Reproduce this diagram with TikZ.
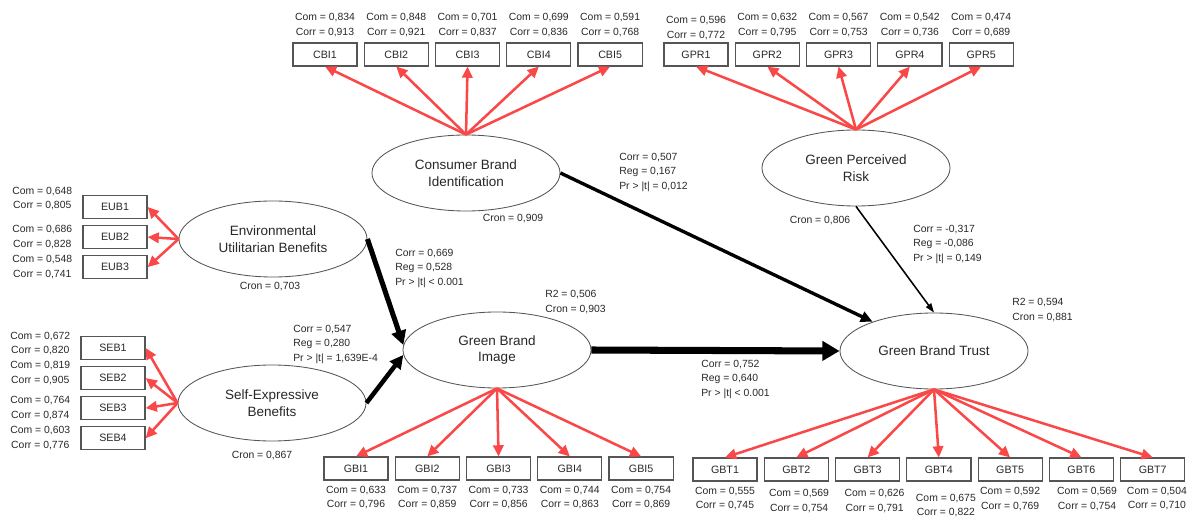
\documentclass[tikz,border=0pt]{standalone}
\usepackage{fontspec}
\setmainfont{Liberation Sans}
\usepackage{tikz}
\usetikzlibrary{arrows.meta,positioning,shapes.geometric}
\definecolor{loadred}{RGB}{250,72,72}
\definecolor{shapeline}{RGB}{85,85,85}
\definecolor{textgray}{RGB}{40,40,40}
\tikzset{
  latent/.style={
    ellipse,
    draw=shapeline,
    line width=0.6pt,
    fill=white,
    align=center,
    minimum width=4.7cm,
    minimum height=1.9cm,
    inner sep=0pt,
    text=textgray,
    font=\fontsize{9.6}{12}\selectfont
  },
  indicator/.style={
    draw=shapeline,
    line width=0.9pt,
    fill=white,
    minimum width=1.6cm,
    minimum height=0.57cm,
    inner sep=0pt,
    text=textgray,
    font=\fontsize{7.6}{9}\selectfont
  },
  stat/.style={
    align=left,
    inner sep=0pt,
    text=textgray,
    font=\fontsize{7.4}{10.3}\selectfont
  },
  loadval/.style={stat, align=center},
  loading/.style={draw=loadred, line width=1.8pt, -{Triangle[length=2.8mm,width=2.6mm]}},
  effect/.style={line width=#1, -{Triangle[length=5pt 1.45,width=2pt 2.3]}}
}
\begin{document}
\begin{tikzpicture}[x=0.025cm, y=-0.025cm]
  \useasboundingbox (0,0) rectangle (1192,517);

  \node[latent] (cbi) at (466,173) {Consumer Brand\\Identification};
  \node[latent] (gpr) at (856,168) {Green Perceived\\Risk};
  \node[latent] (eub) at (273,239) {Environmental\\Utilitarian Benefits};
  \node[latent] (seb) at (272,403) {Self-Expressive\\Benefits};
  \node[latent] (gbi) at (497,350) {Green Brand\\Image};
  \node[latent] (gbt) at (934,351) {Green Brand Trust};

  \node[indicator] (cbi1) at (325,54.5) {CBI1};
  \node[indicator, right=0.15cm of cbi1] (cbi2) {CBI2};
  \node[indicator, right=0.15cm of cbi2] (cbi3) {CBI3};
  \node[indicator, right=0.15cm of cbi3] (cbi4) {CBI4};
  \node[indicator, right=0.15cm of cbi4] (cbi5) {CBI5};
  \node[loadval, above=4pt of cbi1] (cbi1v) {Com = 0,834\\Corr = 0,913};
  \node[loadval, above=4pt of cbi2] (cbi2v) {Com = 0,848\\Corr = 0,921};
  \node[loadval, above=4pt of cbi3] (cbi3v) {Com = 0,701\\Corr = 0,837};
  \node[loadval, above=4pt of cbi4] (cbi4v) {Com = 0,699\\Corr = 0,836};
  \node[loadval, above=4pt of cbi5] (cbi5v) {Com = 0,591\\Corr = 0,768};

  \node[indicator] (gpr1) at (696,54.5) {GPR1};
  \node[indicator, right=0.15cm of gpr1] (gpr2) {GPR2};
  \node[indicator, right=0.15cm of gpr2] (gpr3) {GPR3};
  \node[indicator, right=0.15cm of gpr3] (gpr4) {GPR4};
  \node[indicator, right=0.15cm of gpr4] (gpr5) {GPR5};
  \node[loadval, above=2pt of gpr1] (gpr1v) {Com = 0,596\\Corr = 0,772};
  \node[loadval, above=4pt of gpr2] (gpr2v) {Com = 0,632\\Corr = 0,795};
  \node[loadval, above=4pt of gpr3] (gpr3v) {Com = 0,567\\Corr = 0,753};
  \node[loadval, above=4pt of gpr4] (gpr4v) {Com = 0,542\\Corr = 0,736};
  \node[loadval, above=4pt of gpr5] (gpr5v) {Com = 0,474\\Corr = 0,689};

  \node[indicator] (eub1) at (115,207) {EUB1};
  \node[indicator, below=0.15cm of eub1] (eub2) {EUB2};
  \node[indicator, below=0.15cm of eub2] (eub3) {EUB3};
  \node[loadval, left=7pt of eub1, yshift=6pt] (eub1v) {Com = 0,648\\Corr = 0,805};
  \node[loadval, left=7pt of eub2] (eub2v) {Com = 0,686\\Corr = 0,828};
  \node[loadval, left=7pt of eub3] (eub3v) {Com = 0,548\\Corr = 0,741};

  \node[indicator] (seb1) at (113,348) {SEB1};
  \node[indicator, below=0.15cm of seb1] (seb2) {SEB2};
  \node[indicator, below=0.15cm of seb2] (seb3) {SEB3};
  \node[indicator, below=0.15cm of seb3] (seb4) {SEB4};
  \node[loadval, left=7pt of seb1, yshift=3pt] (seb1v) {Com = 0,672\\Corr = 0,820};
  \node[loadval, left=7pt of seb2, yshift=3.5pt] (seb2v) {Com = 0,819\\Corr = 0,905};
  \node[loadval, left=7pt of seb3] (seb3v) {Com = 0,764\\Corr = 0,874};
  \node[loadval, left=7pt of seb4] (seb4v) {Com = 0,603\\Corr = 0,776};

  \node[indicator] (gbi1) at (356,468.5) {GBI1};
  \node[indicator, right=0.15cm of gbi1] (gbi2) {GBI2};
  \node[indicator, right=0.15cm of gbi2] (gbi3) {GBI3};
  \node[indicator, right=0.15cm of gbi3] (gbi4) {GBI4};
  \node[indicator, right=0.15cm of gbi4] (gbi5) {GBI5};
  \node[loadval, below=3.5pt of gbi1] (gbi1v) {Com = 0,633\\Corr = 0,796};
  \node[loadval, below=3.5pt of gbi2] (gbi2v) {Com = 0,737\\Corr = 0,859};
  \node[loadval, below=3.5pt of gbi3] (gbi3v) {Com = 0,733\\Corr = 0,856};
  \node[loadval, below=3.5pt of gbi4] (gbi4v) {Com = 0,744\\Corr = 0,863};
  \node[loadval, below=3.5pt of gbi5] (gbi5v) {Com = 0,754\\Corr = 0,869};

  \node[indicator] (gbt1) at (725,469.5) {GBT1};
  \node[indicator, right=0.15cm of gbt1] (gbt2) {GBT2};
  \node[indicator, right=0.15cm of gbt2] (gbt3) {GBT3};
  \node[indicator, right=0.15cm of gbt3] (gbt4) {GBT4};
  \node[indicator, right=0.15cm of gbt4] (gbt5) {GBT5};
  \node[indicator, right=0.15cm of gbt5] (gbt6) {GBT6};
  \node[indicator, right=0.15cm of gbt6] (gbt7) {GBT7};
  \node[loadval, below=3.5pt of gbt1] (gbt1v) {Com = 0,555\\Corr = 0,745};
  \node[loadval, below=5.5pt of gbt2, xshift=2pt] (gbt2v) {Com = 0,569\\Corr = 0,754};
  \node[loadval, below=5.5pt of gbt3, xshift=5pt] (gbt3v) {Com = 0,626\\Corr = 0,791};
  \node[loadval, below=8.5pt of gbt4, xshift=5pt] (gbt4v) {Com = 0,675\\Corr = 0,822};
  \node[loadval, below=4pt of gbt5] (gbt5v) {Com = 0,592\\Corr = 0,769};
  \node[loadval, below=4pt of gbt6, xshift=4pt] (gbt6v) {Com = 0,569\\Corr = 0,754};
  \node[loadval, below=3.5pt of gbt7, xshift=3pt] (gbt7v) {Com = 0,504\\Corr = 0,710};

  \node[loadval] (cbicron) at (513,219) {Cron = 0,909};
  \node[loadval] (gprcron) at (820,221) {Cron = 0,806};
  \node[loadval] (eubcron) at (270,287) {Cron = 0,703};
  \node[loadval] (sebcron) at (262,456) {Cron = 0,867};
  \node[stat, anchor=west] (gbifit) at (545,302) {R2 = 0,506\\Cron = 0,903};
  \node[stat, anchor=west] (gbtfit) at (1012,310) {R2 = 0,594\\Cron = 0,881};

  \node[stat, anchor=west] (eubgbi) at (395,268) {Corr = 0,669\\Reg = 0,528\\Pr > |t| < 0.001};
  \node[stat, anchor=west] (sebgbi) at (293,344) {Corr = 0,547\\Reg = 0,280\\Pr > |t| = 1,639E-4};
  \node[stat, anchor=west] (cbigbt) at (619,172) {Corr = 0,507\\Reg = 0,167\\Pr > |t| = 0,012};
  \node[stat, anchor=west] (gprgbt) at (913,244) {Corr = -0,317\\Reg = -0,086\\Pr > |t| = 0,149};
  \node[stat, anchor=west] (gbigbt) at (701,379) {Corr = 0,752\\Reg = 0,640\\Pr > |t| < 0.001};

  \draw[loading] (cbi.north) -- (cbi1.south);
  \draw[loading] (cbi.north) -- (cbi2.south);
  \draw[loading] (cbi.north) -- (cbi3.south);
  \draw[loading] (cbi.north) -- (cbi4.south);
  \draw[loading] (cbi.north) -- (cbi5.south);
  \draw[loading] (gpr.north) -- (gpr1.south);
  \draw[loading] (gpr.north) -- (gpr2.south);
  \draw[loading] (gpr.north) -- (gpr3.south);
  \draw[loading] (gpr.north) -- (gpr4.south);
  \draw[loading] (gpr.north) -- (gpr5.south);
  \draw[loading] (eub.west) -- (eub1.east);
  \draw[loading] (eub.west) -- (eub2.east);
  \draw[loading] (eub.west) -- (eub3.east);
  \draw[loading] (seb.west) -- (seb1.east);
  \draw[loading] (seb.west) -- (seb2.east);
  \draw[loading] (seb.west) -- (seb3.east);
  \draw[loading] (seb.west) -- (seb4.east);
  \draw[loading] (gbi.south) -- (gbi1.north);
  \draw[loading] (gbi.south) -- (gbi2.north);
  \draw[loading] (gbi.south) -- (gbi3.north);
  \draw[loading] (gbi.south) -- (gbi4.north);
  \draw[loading] (gbi.south) -- (gbi5.north);
  \draw[loading] (gbt.south) -- (gbt1.north);
  \draw[loading] (gbt.south) -- (gbt2.north);
  \draw[loading] (gbt.south) -- (gbt3.north);
  \draw[loading] (gbt.south) -- (gbt4.north);
  \draw[loading] (gbt.south) -- (gbt5.north);
  \draw[loading] (gbt.south) -- (gbt6.north);
  \draw[loading] (gbt.south) -- (gbt7.north);

  \draw[effect=3.6pt] (eub.east) -- (gbi.177);
  \draw[effect=3.2pt] (seb.east) -- (gbi.183);
  \draw[effect=5pt] (gbi.east) -- (gbt.west);
  \draw[effect=2.4pt] (cbi.east) -- (gbt);
  \draw[effect=1.1pt] (gpr.south) -- (gbt.north);
\end{tikzpicture}
\end{document}
